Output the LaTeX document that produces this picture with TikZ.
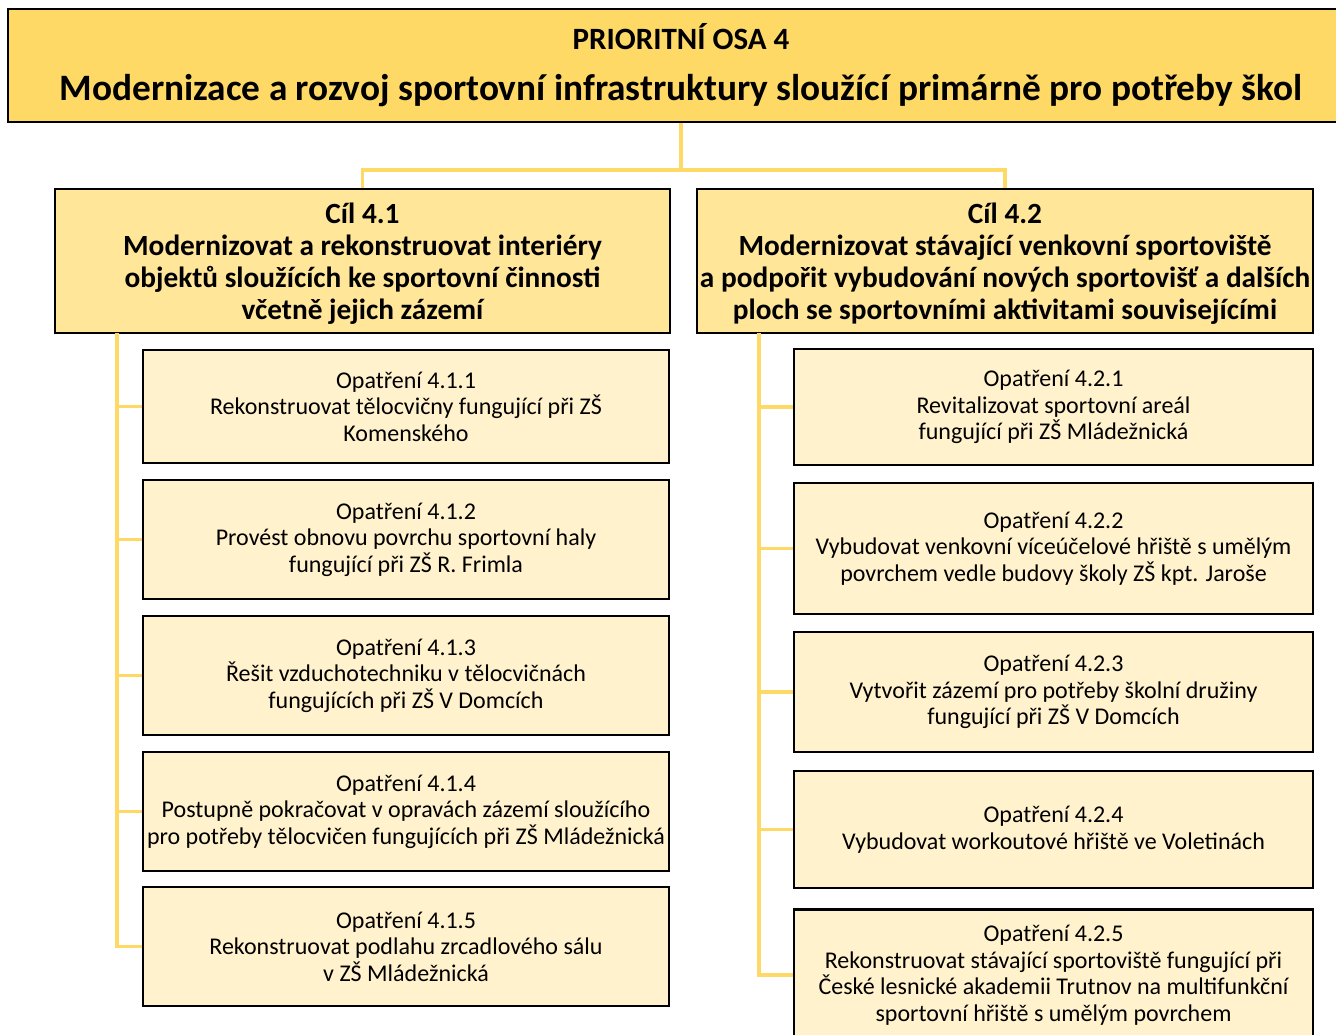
\documentclass[tikz,border=0pt]{standalone}
\usepackage{fontspec}
\setmainfont{Carlito}
\definecolor{goldA}{HTML}{FFD966}
\definecolor{goldB}{HTML}{FFE699}
\definecolor{goldC}{HTML}{FFF2CC}
\definecolor{connc}{HTML}{FFD966}
\tikzset{
  boxbase/.style={draw=black, line width=2.6pt, inner sep=0pt, align=center, text=black},
  topbox/.style={boxbase, fill=goldA},
  cilbox/.style={boxbase, fill=goldB},
  ciltext/.style={inner sep=0pt, align=center, font=\bfseries\fontsize{29.3}{32}\selectfont},
  opbox/.style={boxbase, fill=goldC, font=\fontsize{24}{26.5}\selectfont},
  conn/.style={draw=connc, line width=3.2pt},
}
\begin{document}
\begin{tikzpicture}[x=1pt,y=-1pt]
\useasboundingbox (0,0) rectangle (1336,1035);
\clip (0,0) rectangle (1336,1035);
\coordinate (tj) at (681,170);
\coordinate (ls) at (117,333);
\coordinate (rs) at (759,333);
% top box
\node[topbox, minimum width=1346pt, minimum height=113pt] (top) at (681,65.5) {};
\node[font=\bfseries\fontsize{31}{34}\selectfont, inner sep=0pt] (topa) at (681,36.5) {PRIORITNÍ OSA 4};
\node[font=\bfseries\fontsize{37.3}{40}\selectfont, inner sep=0pt] (topb) at (681,91) {Modernizace a rozvoj sportovní infrastruktury sloužící primárně pro potřeby škol};
% Cíl boxes
\node[cilbox, minimum width=615pt, minimum height=144pt] (c41) at (362.5,261) {};
\node[ciltext] (c41t) at (362.5,263.5)
  {Cíl 4.1\\Modernizovat a rekonstruovat interiéry\\objektů sloužících ke sportovní činnosti\\včetně jejich zázemí};
\node[cilbox, minimum width=616pt, minimum height=144pt] (c42) at (1005,261) {};
\node[ciltext] (c42t) at (1005,263.5)
  {Cíl 4.2\\Modernizovat stávající venkovní sportoviště\\a podpořit vybudování nových sportovišť a dalších\\ploch se sportovními aktivitami souvisejícími};
% left opatření
\node[opbox, minimum width=526pt, minimum height=113pt] (o411) at (406,406.5)
  {Opatření 4.1.1\\Rekonstruovat tělocvičny fungující při ZŠ\\Komenského};
\node[opbox, minimum width=526pt, minimum height=119pt] (o412) at (406,539.5)
  {Opatření 4.1.2\\Provést obnovu povrchu sportovní haly\\fungující při ZŠ R. Frimla};
\node[opbox, minimum width=526pt, minimum height=119pt] (o413) at (406,675.5)
  {Opatření 4.1.3\\Řešit vzduchotechniku v tělocvičnách\\fungujících při ZŠ V Domcích};
\node[opbox, minimum width=526pt, minimum height=119pt] (o414) at (406,811.5)
  {Opatření 4.1.4\\Postupně pokračovat v opravách zázemí sloužícího\\pro potřeby tělocvičen fungujících při ZŠ Mládežnická};
\node[opbox, minimum width=526pt, minimum height=119pt] (o415) at (406,946.5)
  {Opatření 4.1.5\\Rekonstruovat podlahu zrcadlového sálu\\v ZŠ Mládežnická};
% right opatření
\node[opbox, minimum width=519pt, minimum height=116pt] (o421) at (1053.5,407)
  {Opatření 4.2.1\\Revitalizovat sportovní areál\\fungující při ZŠ Mládežnická};
\node[opbox, minimum width=519pt, minimum height=131pt] (o422) at (1053.5,548.5)
  {Opatření 4.2.2\\Vybudovat venkovní víceúčelové hřiště s umělým\\povrchem vedle budovy školy ZŠ kpt. Jaroše};
\node[opbox, minimum width=519pt, minimum height=120pt] (o423) at (1053.5,692)
  {Opatření 4.2.3\\Vytvořit zázemí pro potřeby školní družiny\\fungující při ZŠ V Domcích};
\node[opbox, minimum width=519pt, minimum height=117pt] (o424) at (1053.5,829.5)
  {Opatření 4.2.4\\Vybudovat workoutové hřiště ve Voletinách};
\node[opbox, minimum width=519pt, minimum height=131pt] (o425) at (1053.5,975)
  {Opatření 4.2.5\\Rekonstruovat stávající sportoviště fungující při\\České lesnické akademii Trutnov na multifunkční\\sportovní hřiště s umělým povrchem};
% connectors
\draw[conn] (top.south -| tj) -- (tj);
\draw[conn] (tj) -| (c41.north);
\draw[conn] (tj) -| (c42.north);
\draw[conn] (ls) |- (o415.west);
\foreach \n in {o411,o412,o413,o414} \draw[conn] (\n.west) -- (\n.west -| ls);
\draw[conn] (rs) |- (o425.west);
\foreach \n in {o421,o422,o423,o424} \draw[conn] (\n.west) -- (\n.west -| rs);
\end{tikzpicture}
\end{document}
